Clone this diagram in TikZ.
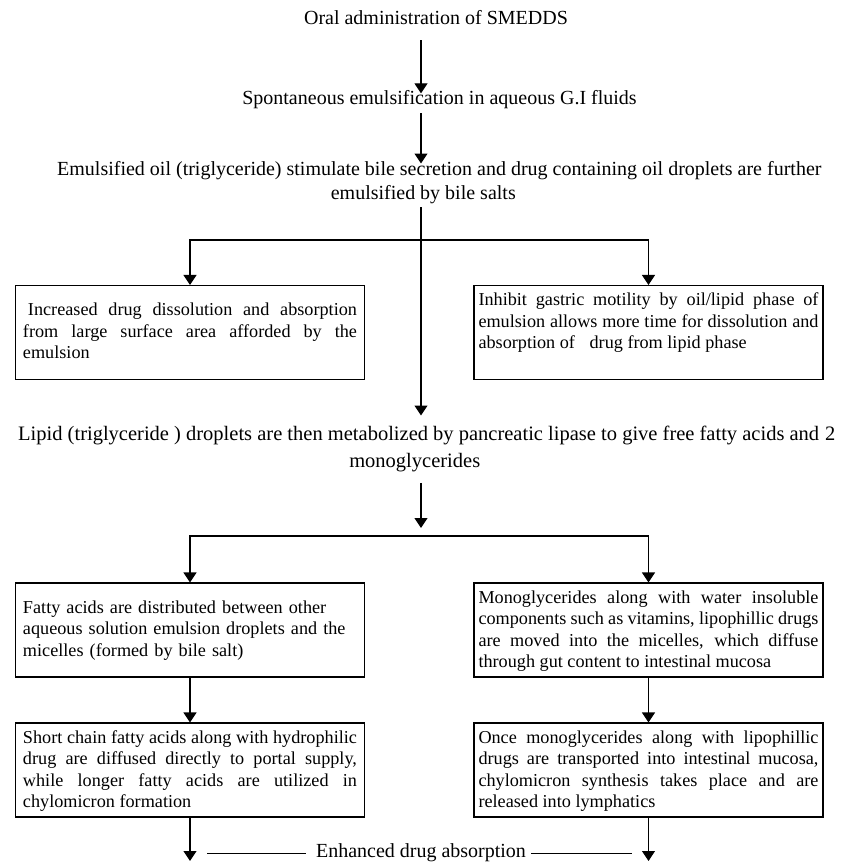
\documentclass[tikz,border=0pt]{standalone}
\usepackage{fontspec}
\setmainfont{Liberation Serif}
\usetikzlibrary{arrows.meta}

\tikzset{
  stage/.style={font=\fontsize{20}{24}\selectfont, inner sep=0pt, align=center},
  flow/.style={line width=1.1pt, -{Triangle[width=13pt,length=10pt]}},
  infobox/.style={draw, line width=1.1pt, font=\fontsize{18.2}{21.5}\selectfont,
    align=justify, inner ysep=4pt, text height=16pt, text depth=70pt},
  leftbox/.style={infobox, text width=334pt, inner xsep=7.5pt},
  rightbox/.style={infobox, text width=340pt, inner xsep=4.5pt}
}

\begin{document}
\begin{tikzpicture}[x=1pt, y=1pt]
  \useasboundingbox (0,0) rectangle (842,-862);

  % main line of text
  \node[stage, text height=14pt, text depth=4.5pt] (oral) at (436,-20) {Oral administration of SMEDDS};
  \node[stage, text height=14pt, text depth=4.5pt] (spont) at (439.5,-100) {Spontaneous emulsification in aqueous G.I fluids};
  \node[stage, anchor=north west] (bile) at (57,-161.5)
    {Emulsified oil (triglyceride) stimulate bile secretion and drug containing oil droplets are further\\
     emulsified by bile salts\hspace*{32pt}};
  \node[stage, anchor=north west, font=\fontsize{20.5}{24}\selectfont] (lipid) at (18,-425.5)
    {Lipid (triglyceride ) droplets are then metabolized by pancreatic lipase to give free fatty acids and\hspace{6pt}2\\[3pt]
     monoglycerides\hspace*{24pt}};

  % boxes
  \node[leftbox, text height=26pt, text depth=60pt] (dissol) at (190,-332.5)
    {\hspace*{5pt}Increased drug dissolution and absorption\linebreak
     from large surface area afforded by the\linebreak
     emulsion};
  \node[rightbox] (motil) at (648.5,-332.5)
    {Inhibit gastric motility by oil/lipid phase of\linebreak
     emulsion allows more time for dissolution and\linebreak
     absorption of\hspace{10pt} drug from lipid phase};
  \node[leftbox, align=left, text height=26pt, text depth=60pt] (fatty) at (190,-630)
    {Fatty acids are distributed between other\\
     aqueous solution emulsion droplets and the\\
     micelles (formed by bile salt)};
  \node[rightbox] (mono) at (648.5,-630)
    {Monoglycerides along with water insoluble\linebreak
     components such as vitamins, lipophillic drugs\linebreak
     are moved into the micelles, which diffuse\linebreak
     through gut content to intestinal mucosa};
  \node[leftbox] (short) at (190,-770)
    {Short chain fatty acids along with hydrophilic\linebreak
     drug are diffused directly to portal supply,\linebreak
     while longer fatty acids are utilized in\linebreak
     chylomicron formation};
  \node[rightbox] (lymph) at (648.5,-770)
    {Once monoglycerides along with lipophillic\linebreak
     drugs are transported into intestinal mucosa,\linebreak
     chylomicron synthesis takes place and are\linebreak
     released into lymphatics};

  \node[stage, text height=14pt, text depth=4.5pt] (enh) at (421,-853) {Enhanced drug absorption};

  % spine and branches
  \coordinate (sp) at (421,0);
  \coordinate (split1) at (421,-240);
  \coordinate (split2) at (421,-536);
  \coordinate (endL) at (190,-861);
  \coordinate (endR) at (648.5,-861);

  \draw[flow, shorten <=10.75pt, shorten >=-2.75pt] (oral.south -| sp) -- (spont.north -| sp);
  \draw[flow, shorten <=3.75pt, shorten >=-2pt] (spont.south -| sp) -- (bile.north -| sp);
  \draw[flow, shorten <=3pt, shorten >=10pt] (bile.south -| sp) -- (lipid.north -| sp);
  \draw[flow] (split1) -| (dissol.north);
  \draw[flow] (split1) -| (motil.north);

  \draw[flow, shorten <=11pt, shorten >=8pt] (lipid.south -| sp) -- (split2);
  \draw[flow] (split2) -| (fatty.north);
  \draw[flow] (split2) -| (mono.north);

  \draw[flow] (fatty) -- (short);
  \draw[flow] (mono) -- (lymph);
  \draw[flow] (short) -- (endL);
  \draw[flow] (lymph) -- (endR);

  \draw[line width=0.8pt, shorten <=10pt, shorten >=17pt] (enh.west) -- (enh.west -| endL);
  \draw[line width=0.8pt, shorten <=5pt, shorten >=16.5pt] (enh.east) -- (enh.east -| endR);
\end{tikzpicture}
\end{document}
